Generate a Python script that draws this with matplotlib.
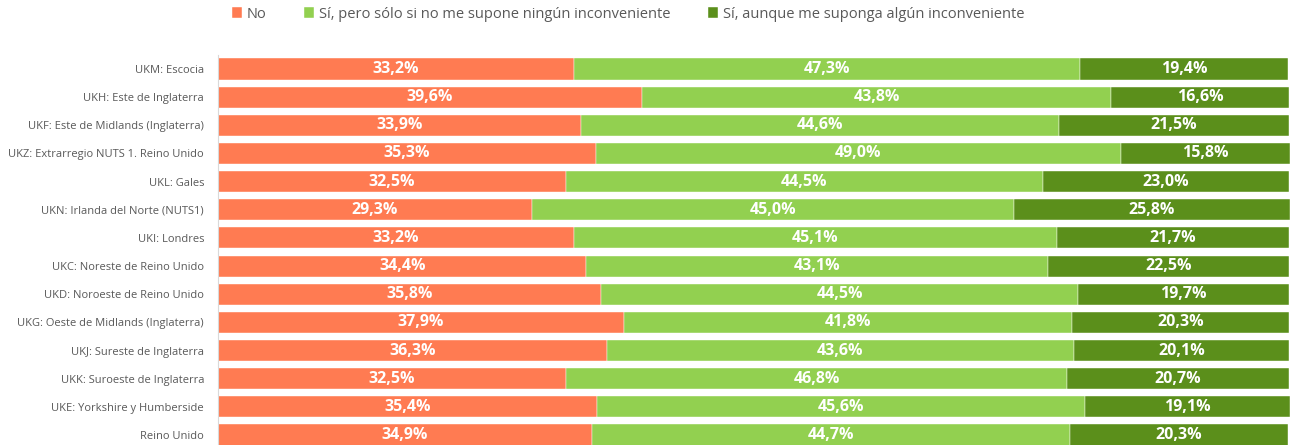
import matplotlib
matplotlib.use("Agg")
import matplotlib.pyplot as plt
import numpy as np

categories = [
    "UKM: Escocia",
    "UKH: Este de Inglaterra",
    "UKF: Este de Midlands (Inglaterra)",
    "UKZ: Extrarregio NUTS 1. Reino Unido",
    "UKL: Gales",
    "UKN: Irlanda del Norte (NUTS1)",
    "UKI: Londres",
    "UKC: Noreste de Reino Unido",
    "UKD: Noroeste de Reino Unido",
    "UKG: Oeste de Midlands (Inglaterra)",
    "UKJ: Sureste de Inglaterra",
    "UKK: Suroeste de Inglaterra",
    "UKE: Yorkshire y Humberside",
    "Reino Unido",
]
no_vals = [33.2, 39.6, 33.9, 35.3, 32.5, 29.3, 33.2, 34.4, 35.8, 37.9, 36.3, 32.5, 35.4, 34.9]
si_sin_vals = [47.3, 43.8, 44.6, 49.0, 44.5, 45.0, 45.1, 43.1, 44.5, 41.8, 43.6, 46.8, 45.6, 44.7]
si_con_vals = [19.4, 16.6, 21.5, 15.8, 23.0, 25.8, 21.7, 22.5, 19.7, 20.3, 20.1, 20.7, 19.1, 20.3]
series_names = ["No", "Sí, pero sólo si no me supone ningún inconveniente",
                "Sí, aunque me suponga algún inconveniente"]
colors = ["#FF7B52", "#92D050", "#5B8F1B"]

plt.rcParams['font.family'] = ['Open Sans', 'DejaVu Sans']

W, H = 1296, 445
fig = plt.figure(figsize=(W / 100, H / 100), dpi=100)
left_px, right_px, top_px = 218, 1290, 55
ax = fig.add_axes([left_px / W, 0, (right_px - left_px) / W, 1 - top_px / H])

n = len(categories)
y = np.arange(n)
spacing = (435 - 69) / 13.0
ax.set_ylim(13 + (H - 435) / spacing, -(69 - top_px) / spacing)

data = [no_vals, si_sin_vals, si_con_vals]
left = np.zeros(n)
handles = []
for vals, c, name in zip(data, colors, series_names):
    vals = np.array(vals)
    b = ax.barh(y, vals, left=left, height=0.75, color=c, label=name,
                edgecolor="white", linewidth=0.3)
    handles.append(b)
    for yi, (l, v) in enumerate(zip(left, vals)):
        ax.text(l + v / 2, yi, f"{v:.1f}%".replace(".", ","), ha="center", va="center",
                color="white", fontweight="bold", fontsize=11.5)
    left = left + vals

ax.set_xlim(0, left.max())
ax.set_yticks(y)
ax.set_yticklabels(categories, fontsize=8, color="#595959")
ax.tick_params(axis="y", length=0, pad=10)
ax.tick_params(axis="x", bottom=False, labelbottom=False)
for s in ["top", "right", "bottom"]:
    ax.spines[s].set_visible(False)
ax.spines["left"].set_color("#D9D9D9")
ax.spines["left"].set_linewidth(0.8)

fig.legend(handles=handles, labels=series_names, loc="center",
           bbox_to_anchor=(628 / W, 1 - 14 / H), ncol=3, frameon=False,
           fontsize=10.5, handlelength=0.7, handleheight=0.7, handletextpad=0.3,
           columnspacing=2.6, labelcolor="#595959")

fig.savefig("out.png", dpi=100)
